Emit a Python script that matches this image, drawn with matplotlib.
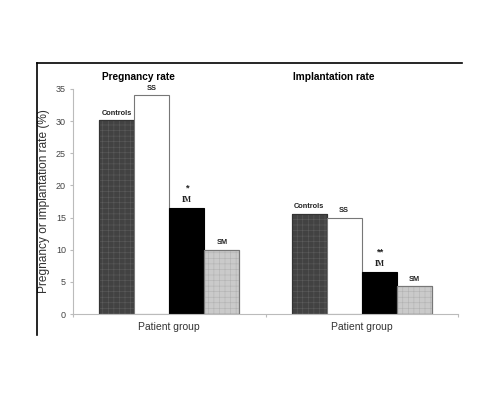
import matplotlib
matplotlib.use("Agg")
import matplotlib.pyplot as plt
from matplotlib.lines import Line2D

plt.rcParams['font.family'] = ['Liberation Sans', 'DejaVu Sans']
plt.rcParams['hatch.linewidth'] = 0.4

groups = ['Pregnancy rate', 'Implantation rate']
patients = ['Controls', 'SS', 'IM', 'SM']
pregnancy = [30.2, 34.1, 16.5, 10.0]
implantation = [15.6, 15.0, 6.5, 4.3]
stars = ['*', '**']

colors = ['#424242', '#ffffff', '#000000', '#cacaca']
edges = ['#333333', '#777777', '#000000', '#777777']
hatch_cols = ['#5c5c5c', None, None, '#b2b2b2']

fig = plt.figure(figsize=(5, 4), dpi=100)
ax = fig.add_axes([0.146, 0.215, 0.77, 0.5625])

w = 0.182
centers = [0.5, 1.5]
for g, vals in enumerate([pregnancy, implantation]):
    for i, v in enumerate(vals):
        x = centers[g] + (i - 1.5) * w
        ax.bar(x, v, width=w, color=colors[i], edgecolor=edges[i], linewidth=0.8)
        if hatch_cols[i]:
            # texture of the printed bars
            ax.bar(x, v, width=w, fill=False, hatch='+++', edgecolor=hatch_cols[i], linewidth=0)
            ax.bar(x, v, width=w, fill=False, edgecolor=edges[i], linewidth=0.8)
        if patients[i] == 'IM':
            ax.text(x, v + 0.6, 'IM', ha='center', va='bottom', fontsize=5.5,
                    fontweight='bold', family='Liberation Serif', color='#222222')
            ax.text(x, v + 2.4, stars[g], ha='center', va='bottom', fontsize=6.8,
                    fontweight='bold', color='#222222')
        else:
            ax.text(x, v + 0.5, patients[i], ha='center', va='bottom', fontsize=5.3,
                    fontweight='bold', color='#222222')

ax.text(0.34, 36.9, groups[0], ha='center', va='center', fontsize=7.3, fontweight='bold')
ax.text(1.356, 36.9, groups[1], ha='center', va='center', fontsize=7.3, fontweight='bold')

ax.set_xlim(0, 2)
ax.set_ylim(0, 35)
ax.set_yticks(range(0, 36, 5))
ax.tick_params(axis='y', labelsize=6.5, labelcolor='#444444', length=2, color='#bbbbbb', pad=3)
ax.set_xticks([0, 1, 2])
ax.set_xticklabels([])
ax.tick_params(axis='x', which='major', length=2, color='#bbbbbb')
ax.set_xticks(centers, minor=True)
ax.set_xticklabels(['Patient group', 'Patient group'], minor=True)
ax.tick_params(axis='x', which='minor', length=0, labelsize=7.5, labelcolor='#333333', pad=6)
ax.set_ylabel('Pregnancy or implantation rate (%)', fontsize=8.6, color='#333333')
ax.yaxis.set_label_coords(-0.06, 0.5)

for s in ['top', 'right']:
    ax.spines[s].set_visible(False)
for s in ['left', 'bottom']:
    ax.spines[s].set_color('#bbbbbb')
    ax.spines[s].set_linewidth(0.8)

# outer frame (left and top only)
fig.add_artist(Line2D([0.074, 0.074], [0.1625, 0.8425], color='black', lw=1.2))
fig.add_artist(Line2D([0.074, 0.924], [0.8425, 0.8425], color='black', lw=1.2))

fig.savefig('out.png', dpi=100)
